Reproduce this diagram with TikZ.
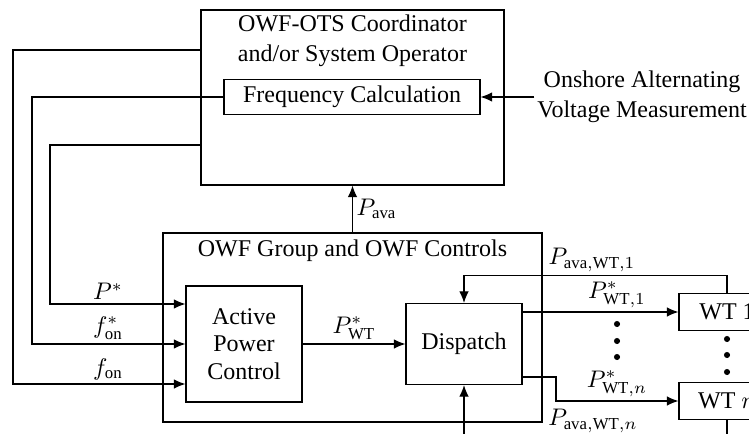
\documentclass[tikz,border=0pt]{standalone}
\usepackage{fontspec}
\setmainfont{Liberation Serif}
\setmathrm{Liberation Serif}
\usepackage{amsmath}
\usetikzlibrary{arrows.meta}
\newcommand{\pxu}{0.4167pt}

\begin{document}
\begin{tikzpicture}[x=\pxu, y=-\pxu, line width=0.5pt,
  >={Latex[length=4.8pt,width=4pt]},
  every node/.style={font=\fontsize{10}{11.5}\selectfont},
  box/.style={draw, inner sep=0pt, align=center},
  lab/.style={inner sep=1.5pt},
  dot/.style={circle, fill, inner sep=0.9pt}]
 \useasboundingbox (0,0) rectangle (749,434);
 \clip (0,0) rectangle (749,434);
 % blocks
 \node (coord) [box, minimum width=303*\pxu, minimum height=175*\pxu] at (352.5,97.5) {};
 \node (coordtxt) [align=center, font=\fontsize{10}{12.5}\selectfont] at (352.5,41) {OWF-OTS Coordinator\\and/or System Operator};
 \node (freq) [box, minimum width=256*\pxu, minimum height=35*\pxu] at (352,97) {Frequency Calculation};
 \node (onshore) [align=center, inner sep=1pt, font=\fontsize{10}{12.5}\selectfont] at (642,97) {Onshore Alternating\\Voltage Measurement};
 \node (group) [box, minimum width=379*\pxu, minimum height=189*\pxu] at (352.5,327.5) {};
 \node (grouptxt) at (352.5,251) {OWF Group and OWF Controls};
 \node (apc) [box, minimum width=116*\pxu, minimum height=116*\pxu] at (244,344) {Active\\Power\\Control};
 \node (disp) [box, minimum width=116*\pxu, minimum height=81*\pxu] at (464,344) {Dispatch};
 \node (wt1) [box, minimum width=96*\pxu, minimum height=37*\pxu] at (727,312) {WT 1};
 \node (wtn) [box, minimum width=96*\pxu, minimum height=37*\pxu] at (727,401) {WT $n$};
 % signals
 \draw[->] (onshore.west) -- (freq.east);
 \draw[->] (group.north) -- (coord.south) node (lava) [lab, right, midway] {$P_\mathrm{ava}$};
 \draw[->] (coord.west |- 0,50) -| (13,384) -- (apc.west |- 0,384);
 \draw[->] (freq.west) -| (32,344) -- (apc.west);
 \draw[->] (coord.west |- 0,145) -| (50,304) -- (apc.west |- 0,304);
 \node (lpref) [lab, above] at (108,304) {$P^*$};
 \node (lfref) [lab, above] at (108,344) {$f^*_\mathrm{on}$};
 \node (lfon) [lab, above] at (108,384) {$f_\mathrm{on}$};
 \draw[->] (apc.east) -- (disp.west) node (lpwt) [lab, above, midway] {$P^*_\mathrm{WT}$};
 \draw[->] (wt1.north) -- ++(0,-17) -| (disp.north);
 \draw[->] (disp.east |- wt1.west) -- (wt1.west);
 \draw[->] (disp.east |- 0,377) -| (556,401) -- (wtn.west);
 \draw[->] (wtn.south) -- ++(0,30) -| (disp.south);
 \node (lava1) [lab, above] at (592,276) {$P_{\mathrm{ava,WT},1}$};
 \node (lpwt1) [lab, above] at (617,312) {$P^*_{\mathrm{WT},1}$};
 \node (lpwtn) [lab, above] at (617,401) {$P^*_{\mathrm{WT},n}$};
 \node (lavan) [lab] at (593,421) {$P_{\mathrm{ava,WT},n}$};
 % dots
 \node (d1) [dot] at (617,324) {};
 \node (d2) [dot] at (617,341) {};
 \node (d3) [dot] at (617,357) {};
 \node (d4) [dot] at (727,339) {};
 \node (d5) [dot] at (727,355) {};
 \node (d6) [dot] at (727,372) {};
\end{tikzpicture}
\end{document}
